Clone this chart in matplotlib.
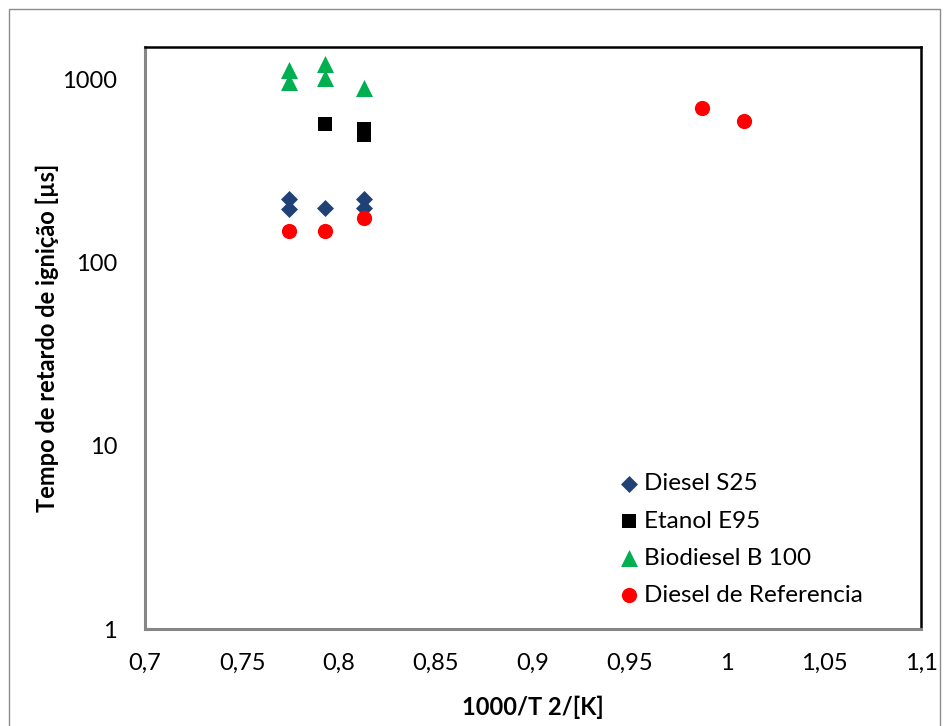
import matplotlib
matplotlib.use("Agg")
import matplotlib.pyplot as plt
from matplotlib.patches import Rectangle
from matplotlib.ticker import FixedLocator, FixedFormatter, NullLocator

plt.rcParams['font.family'] = ['Lato', 'DejaVu Sans']

# Ignition delay data (x = 1000/T2, y = delay in microseconds)
s25_x = [0.774, 0.774, 0.793, 0.813, 0.813]
s25_y = [225, 198, 200, 225, 200]

e95_x = [0.793, 0.813, 0.813]
e95_y = [575, 540, 500]

b100_x = [0.774, 0.774, 0.793, 0.793, 0.813]
b100_y = [1130, 970, 1220, 1020, 900]

ref_x = [0.774, 0.793, 0.813, 0.987, 1.009]
ref_y = [150, 150, 175, 700, 600]

x_ticks = [0.7, 0.75, 0.8, 0.85, 0.9, 0.95, 1.0, 1.05, 1.1]
x_tick_labels = ['0,7', '0,75', '0,8', '0,85', '0,9', '0,95', '1', '1,05', '1,1']
y_ticks = [1, 10, 100, 1000]
y_tick_labels = ['1', '10', '100', '1000']

fig = plt.figure(figsize=(9.46, 7.26), dpi=100)
fig.patches.append(Rectangle((9 / 946, -0.01), 931 / 946, 1 - 9 / 726 + 0.01,
                             transform=fig.transFigure, fill=False,
                             edgecolor='#8c8c8c', linewidth=1.0))

ax = fig.add_axes([145 / 946, (726 - 629) / 726, (921 - 145) / 946, (629 - 47) / 726])

ax.scatter(s25_x, s25_y, marker='D', s=75, color='#1f4176', label='Diesel S25', zorder=3, linewidths=0)
ax.scatter(e95_x, e95_y, marker='s', s=95, color='#000000', label='Etanol E95', zorder=3, linewidths=0)
ax.scatter(b100_x, b100_y, marker='^', s=150, color='#00b050', label='Biodiesel B 100', zorder=3, linewidths=0)
ax.scatter(ref_x, ref_y, marker='o', s=120, color='#ff0000', label='Diesel de Referencia', zorder=3, linewidths=0)

ax.set_yscale('log')
ax.set_xlim(0.7, 1.1)
ax.set_ylim(1, 10 ** 3.18)

ax.xaxis.set_major_locator(FixedLocator(x_ticks))
ax.xaxis.set_major_formatter(FixedFormatter(x_tick_labels))
ax.yaxis.set_major_locator(FixedLocator(y_ticks))
ax.yaxis.set_major_formatter(FixedFormatter(y_tick_labels))
ax.yaxis.set_minor_locator(NullLocator())
ax.tick_params(axis='both', length=0, labelsize=17, colors='#000000')
ax.tick_params(axis='x', pad=17)
ax.tick_params(axis='y', pad=20)

for side in ('left', 'bottom'):
    ax.spines[side].set_color('#868686')
    ax.spines[side].set_linewidth(2.2)
for side in ('top', 'right'):
    ax.spines[side].set_color('#000000')
    ax.spines[side].set_linewidth(1.8)

ax.set_xlabel('1000/T 2/[K]', fontsize=17, fontweight='bold', labelpad=16)
ax.set_ylabel('Tempo de retardo de ignição [µs]', fontsize=17, fontweight='bold', labelpad=2)

ax.legend(loc='upper left', bbox_to_anchor=(0.592, 0.284), frameon=False,
          fontsize=17.5, handletextpad=0.05, labelspacing=0.66, borderaxespad=0,
          handlelength=1.2)

fig.savefig('out.png', dpi=100)
